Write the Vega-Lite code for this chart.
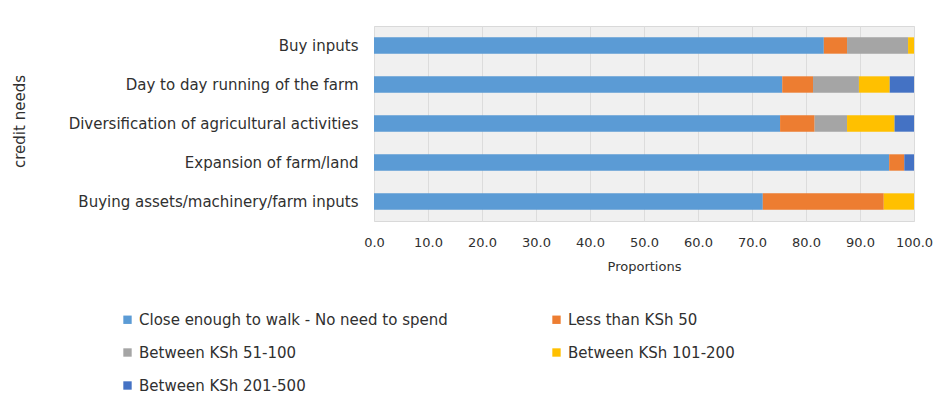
{
  "$schema": "https://vega.github.io/schema/vega-lite/v6.json",
  "width": 540,
  "height": 195,
  "autosize": {"type": "none"},
  "padding": {"left": 374, "top": 26, "right": 32, "bottom": 191},
  "background": "white",
  "config": {
    "font": "DejaVu Sans",
    "view": {"fill": "#f0f0f0", "stroke": "#d9d9d9", "strokeWidth": 1}
  },
  "data": {
    "values": [
      {"need": "Buy inputs", "cost": "Close enough to walk - No need to spend", "k": 1, "p": 83.3},
      {"need": "Buy inputs", "cost": "Less than KSh 50", "k": 2, "p": 4.3},
      {"need": "Buy inputs", "cost": "Between KSh 51-100", "k": 3, "p": 11.3},
      {"need": "Buy inputs", "cost": "Between KSh 101-200", "k": 4, "p": 1.1},
      {"need": "Buy inputs", "cost": "Between KSh 201-500", "k": 5, "p": 0},
      {"need": "Day to day running of the farm", "cost": "Close enough to walk - No need to spend", "k": 1, "p": 75.6},
      {"need": "Day to day running of the farm", "cost": "Less than KSh 50", "k": 2, "p": 5.7},
      {"need": "Day to day running of the farm", "cost": "Between KSh 51-100", "k": 3, "p": 8.5},
      {"need": "Day to day running of the farm", "cost": "Between KSh 101-200", "k": 4, "p": 5.7},
      {"need": "Day to day running of the farm", "cost": "Between KSh 201-500", "k": 5, "p": 4.5},
      {"need": "Diversification of agricultural activities", "cost": "Close enough to walk - No need to spend", "k": 1, "p": 75.2},
      {"need": "Diversification of agricultural activities", "cost": "Less than KSh 50", "k": 2, "p": 6.4},
      {"need": "Diversification of agricultural activities", "cost": "Between KSh 51-100", "k": 3, "p": 6.0},
      {"need": "Diversification of agricultural activities", "cost": "Between KSh 101-200", "k": 4, "p": 8.8},
      {"need": "Diversification of agricultural activities", "cost": "Between KSh 201-500", "k": 5, "p": 3.6},
      {"need": "Expansion of farm/land", "cost": "Close enough to walk - No need to spend", "k": 1, "p": 95.4},
      {"need": "Expansion of farm/land", "cost": "Less than KSh 50", "k": 2, "p": 2.8},
      {"need": "Expansion of farm/land", "cost": "Between KSh 51-100", "k": 3, "p": 0},
      {"need": "Expansion of farm/land", "cost": "Between KSh 101-200", "k": 4, "p": 0},
      {"need": "Expansion of farm/land", "cost": "Between KSh 201-500", "k": 5, "p": 1.8},
      {"need": "Buying assets/machinery/farm inputs", "cost": "Close enough to walk - No need to spend", "k": 1, "p": 72.0},
      {"need": "Buying assets/machinery/farm inputs", "cost": "Less than KSh 50", "k": 2, "p": 22.4},
      {"need": "Buying assets/machinery/farm inputs", "cost": "Between KSh 51-100", "k": 3, "p": 0},
      {"need": "Buying assets/machinery/farm inputs", "cost": "Between KSh 101-200", "k": 4, "p": 5.6},
      {"need": "Buying assets/machinery/farm inputs", "cost": "Between KSh 201-500", "k": 5, "p": 0}
    ]
  },
  "mark": {"type": "bar"},
  "encoding": {
    "y": {
      "field": "need",
      "type": "nominal",
      "sort": ["Buy inputs", "Day to day running of the farm", "Diversification of agricultural activities", "Expansion of farm/land", "Buying assets/machinery/farm inputs"],
      "scale": {"paddingInner": 0.58, "paddingOuter": 0.29},
      "axis": {
        "title": "credit needs",
        "titleFontSize": 15,
        "titleFontWeight": "normal",
        "titleColor": "#303030",
        "titleX": -347,
        "titleY": 95,
        "titleAngle": -90,
        "labelFontSize": 15,
        "labelColor": "#303030",
        "labelPadding": 16,
        "labelLimit": 400,
        "ticks": false,
        "domain": false
      }
    },
    "x": {
      "field": "p",
      "type": "quantitative",
      "stack": "zero",
      "scale": {"domain": [0, 100], "nice": false},
      "axis": {
        "title": "Proportions",
        "titleFontSize": 13,
        "titleFontWeight": "normal",
        "titleColor": "#303030",
        "titlePadding": 11,
        "values": [0, 10, 20, 30, 40, 50, 60, 70, 80, 90, 100],
        "format": ".1f",
        "labelFontSize": 13,
        "labelColor": "#303030",
        "labelPadding": 15,
        "ticks": false,
        "domain": false,
        "gridColor": "#dcdcdc",
        "labelFlush": false
      }
    },
    "color": {
      "field": "cost",
      "type": "nominal",
      "scale": {
        "domain": ["Close enough to walk - No need to spend", "Between KSh 51-100", "Between KSh 201-500", "Less than KSh 50", "Between KSh 101-200"],
        "range": ["#5b9bd5", "#a5a5a5", "#4472c4", "#ed7d31", "#ffc000"]
      },
      "legend": {
        "title": null,
        "orient": "none",
        "legendX": -254,
        "legendY": 286,
        "columns": 2,
        "columnPadding": 101,
        "rowPadding": 17,
        "symbolType": "square",
        "symbolSize": 70,
        "symbolStrokeWidth": 0,
        "labelFontSize": 15,
        "labelColor": "#303030",
        "labelLimit": 400
      }
    },
    "order": {"field": "k", "type": "quantitative"}
  }
}
